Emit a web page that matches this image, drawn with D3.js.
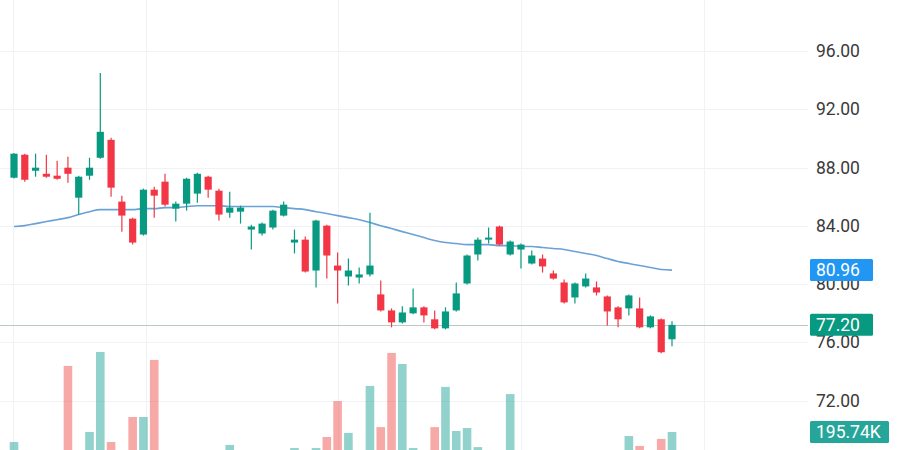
<!DOCTYPE html>
<html>
<head>
<meta charset="utf-8">
<script src="https://cdn.jsdelivr.net/npm/d3@7/dist/d3.min.js"></script>
<style>
html,body{margin:0;padding:0;background:#fff;}
svg{display:block;}
text{font-family:Roboto,"Open Sans",sans-serif;}
</style>
</head>
<body>
<svg id="chart" width="900" height="450"></svg>
<script>
// ---- data ----
const opens  = [87.30,88.88,87.78,87.57,87.44,87.99,85.93,87.44,88.67,89.90,85.66,84.49,83.40,86.48,87.03,85.18,85.52,86.21,87.37,86.41,84.90,84.97,83.74,83.47,83.88,84.70,82.85,83.05,80.93,84.01,81.27,80.52,80.45,80.66,79.29,78.19,77.37,77.99,78.40,77.58,76.96,78.19,80.04,82.03,83.05,83.95,82.03,82.37,81.41,81.75,80.73,80.11,79.08,79.84,79.77,79.15,78.40,78.33,78.33,77.03,77.58,76.21];
const highs  = [89.00,88.95,88.95,88.88,88.47,88.74,87.44,88.67,94.49,90.04,86.07,84.56,86.55,86.68,87.57,85.66,87.30,87.64,87.44,86.55,86.34,85.38,84.08,84.22,85.11,85.66,83.74,83.26,84.42,84.08,82.16,81.75,81.14,84.90,80.25,78.33,78.47,79.70,78.47,78.19,78.40,80.11,82.03,83.19,83.88,84.01,82.99,82.78,82.30,82.03,80.93,80.32,80.11,80.73,80.18,79.22,78.47,79.29,79.08,77.85,77.64,77.44];
const lows   = [87.25,87.03,87.37,87.30,87.16,86.96,84.77,87.16,88.60,86.00,83.60,82.71,83.33,84.56,85.32,84.29,85.04,85.59,85.93,84.36,84.56,84.15,82.37,83.33,83.74,84.63,82.10,80.79,79.77,80.38,78.67,79.90,80.04,80.52,78.12,77.03,77.30,77.92,77.37,76.89,76.89,78.12,79.97,81.62,82.78,82.64,81.96,81.07,81.34,80.79,80.32,78.67,78.67,79.77,79.22,77.16,77.03,77.85,76.96,76.96,75.25,75.73];
const closes = [88.95,87.16,87.99,87.37,87.23,87.57,87.37,87.99,90.45,86.62,84.70,82.85,86.48,86.07,85.45,85.52,87.23,87.57,86.48,84.77,85.25,85.25,83.95,84.15,85.04,85.45,83.05,80.86,84.36,81.96,80.93,80.93,80.66,81.27,78.19,77.37,78.05,78.40,77.85,76.96,78.12,79.36,81.96,83.05,83.19,82.71,82.92,82.71,81.96,81.21,80.38,78.74,80.04,80.38,79.42,78.12,77.58,79.22,77.03,77.78,75.32,77.20];
const volumesK = [144,51,62,41,51,536,77,196,608,144,72,273,273,567,93,62,77,41,51,72,129,41,62,51,72,77,113,77,113,170,355,191,77,433,221,603,546,113,72,221,428,201,216,118,62,77,391,72,51,62,41,77,62,72,51,77,67,175,124,77,160,195.74];
const maValues = [83.95,84.01,84.15,84.29,84.42,84.56,84.77,84.97,85.11,85.11,85.11,85.11,85.18,85.18,85.25,85.25,85.32,85.38,85.38,85.38,85.32,85.32,85.32,85.32,85.32,85.25,85.18,85.11,84.97,84.84,84.70,84.56,84.42,84.22,84.01,83.81,83.60,83.40,83.19,82.99,82.85,82.78,82.71,82.71,82.71,82.64,82.64,82.58,82.58,82.51,82.44,82.37,82.23,82.10,81.96,81.75,81.55,81.41,81.27,81.14,81.00,80.96];
const priceTicks = [100, 96, 92, 88, 84, 80, 76, 72];
const priceTickLabels = ["100.00","96.00","92.00","88.00","84.00","80.00","76.00","72.00"];
const timeGridIdx = [-0.1, 12.2, 30.0, 47.0, 64.0];
const lastClose = 77.20, lastMA = 80.96, lastVolume = "195.74K";

const UP = "#089981", DOWN = "#f23645";
const VUP = "rgba(38,166,154,0.5)", VDOWN = "rgba(239,83,80,0.5)";

const svg = d3.select("#chart");
const W = 900, H = 450, plotRight = 808;
const n = opens.length;
const idx = d3.range(n);

const x = d3.scaleLinear().domain([0, n - 1]).range([14, 672]);
const y = d3.scaleLinear().domain([72, 96]).range([400.6, 51]);
const yv = d3.scaleLinear().domain([0, 195.74]).range([470, 432]);

// grid
const grid = svg.append("g");
grid.selectAll("line.h").data(priceTicks).join("line")
  .attr("x1", 0).attr("x2", plotRight)
  .attr("y1", d => Math.round(y(d)) + 0.5).attr("y2", d => Math.round(y(d)) + 0.5)
  .attr("stroke", "#f0f2f5").attr("stroke-width", 1);
grid.selectAll("line.v").data(timeGridIdx).join("line")
  .attr("x1", d => Math.round(x(d)) + 0.5).attr("x2", d => Math.round(x(d)) + 0.5)
  .attr("y1", 0).attr("y2", H)
  .attr("stroke", "#f0f2f5").attr("stroke-width", 1);

// volume
svg.append("g").selectAll("rect").data(idx).join("rect")
  .attr("x", i => x(i) - 4.3).attr("width", 8.6)
  .attr("y", i => yv(volumesK[i])).attr("height", i => yv(0) - yv(volumesK[i]))
  .attr("fill", i => closes[i] >= opens[i] ? VUP : VDOWN);

// last price line
svg.append("line")
  .attr("x1", 0).attr("x2", plotRight)
  .attr("y1", Math.round(y(lastClose)) + 0.5).attr("y2", Math.round(y(lastClose)) + 0.5)
  .attr("stroke", "#b9c9c3").attr("stroke-width", 1);

// MA line
svg.append("path").datum(idx)
  .attr("fill", "none").attr("stroke", "#6aa2d8").attr("stroke-width", 1.6)
  .attr("d", d3.line().x(i => x(i)).y(i => y(maValues[i])).curve(d3.curveMonotoneX));

// candles
const c = svg.append("g").selectAll("g").data(idx).join("g");
c.append("line")
  .attr("x1", i => x(i)).attr("x2", i => x(i))
  .attr("y1", i => y(highs[i])).attr("y2", i => y(lows[i]))
  .attr("stroke", i => closes[i] >= opens[i] ? UP : DOWN).attr("stroke-width", 1.2);
c.append("rect")
  .attr("x", i => x(i) - 3.6).attr("width", 7.2)
  .attr("y", i => y(Math.max(opens[i], closes[i])))
  .attr("height", i => Math.max(1.5, Math.abs(y(opens[i]) - y(closes[i]))))
  .attr("fill", i => closes[i] >= opens[i] ? UP : DOWN);

// price axis labels
svg.append("g").selectAll("text").data(priceTicks).join("text")
  .attr("x", 816).attr("y", d => y(d))
  .attr("dominant-baseline", "central")
  .attr("font-size", 17.5).attr("fill", "#3a3a3a")
  .text((d, k) => priceTickLabels[k]);

// value badges
function badge(val, yy, fill, w) {
  const g = svg.append("g");
  g.append("rect").attr("x", 810).attr("y", yy - 11).attr("width", w).attr("height", 22)
    .attr("rx", 1.5).attr("fill", fill);
  g.append("text").attr("x", 816).attr("y", yy).attr("dominant-baseline", "central")
    .attr("font-size", 17.5).attr("fill", "#fff").text(val);
}
badge(lastMA.toFixed(2), y(lastMA), "#2196f3", 63);
badge(lastClose.toFixed(2), y(lastClose), "#089981", 63);
badge(lastVolume, yv(195.74), "#26a69a", 79);
</script>
</body>
</html>
